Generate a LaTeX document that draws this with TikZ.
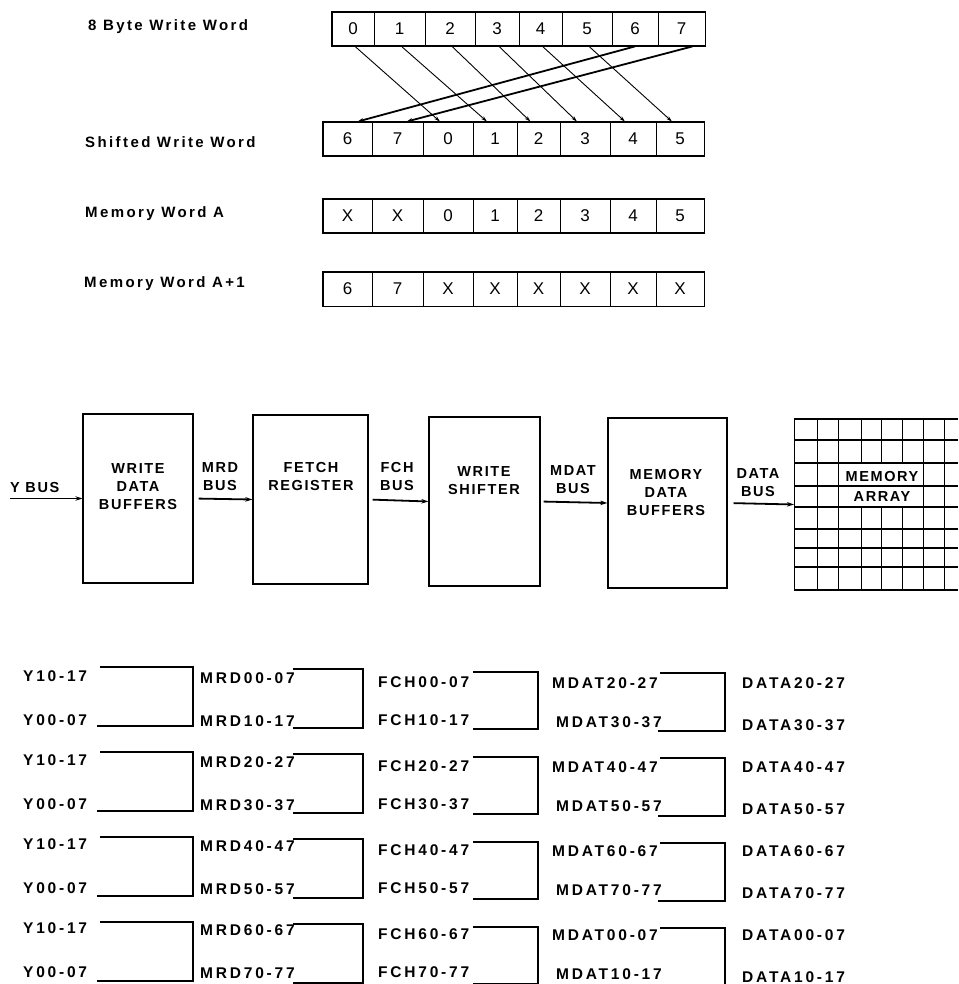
\documentclass[tikz,border=0pt]{standalone}
\usepackage{fontspec}
\setmainfont{Liberation Sans}
\newfontfamily\wordfont[LetterSpace=16]{Liberation Sans}
\newfontfamily\blockfont[LetterSpace=11]{Liberation Sans}
\newfontfamily\sigfont[LetterSpace=18]{Liberation Sans}
\usetikzlibrary{arrows.meta, calc, positioning}

\begin{document}
\begin{tikzpicture}[x=1pt, y=-1pt,
    cell/.style={draw, line width=0.8pt, inner sep=0pt, minimum height=34pt, font=\fontsize{17}{17}\selectfont},
    wordlabel/.style={anchor=base west, inner sep=0pt, font=\wordfont\bfseries\fontsize{15}{15}\selectfont},
    block/.style={draw, line width=1.3pt, inner sep=0pt},
    blocktext/.style={align=center, inner sep=0pt, font=\blockfont\bfseries\fontsize{14.5}{18}\selectfont},
    sig/.style={anchor=west, inner sep=0pt, font=\sigfont\bfseries\fontsize{15.5}{15.5}\selectfont},
    bus/.style={line width=1.8pt, -{Stealth[length=7pt, width=4.5pt]}},
    byteline/.style={line width=0.9pt, -{Stealth[length=6pt, width=3.5pt]}},
    wrapline/.style={line width=1.8pt, -{Stealth[length=6pt, width=4pt]}},
    bracket/.style={line width=1.6pt},
    gridh/.style={line width=1.6pt},
    gridv/.style={line width=0.8pt}]
    \useasboundingbox (0,0) rectangle (958,984);

    % word labels
    \node[wordlabel] (lw) at (88,31) {8 Byte Write Word};
    \node[wordlabel] (ls) at (85,148) {Shifted Write Word};
    \node[wordlabel] (la) at (85,218) {Memory Word A};
    \node[wordlabel] (lb) at (84,287) {Memory Word A+1};

    % byte cells
    \foreach \xa/\xb/\txt [count=\i from 0] in {332/374/0, 374/425/1, 425/475/2, 475/519/3, 519/562/4, 562/612/5, 612/658/6, 658/705/7}
        \node[cell, minimum width={(\xb-\xa)*1pt}] (w\i) at ({(\xa+\xb)/2},29) {\txt};
    \foreach \xa/\xb/\ts/\ta/\tb [count=\i from 0] in {323/372/6/X/6, 372/423/7/X/7, 423/473/0/0/X, 473/517/1/1/X, 517/560/2/2/X, 560/610/3/3/X, 610/656/4/4/X, 656/704/5/5/X} {
        \node[cell, minimum width={(\xb-\xa)*1pt}] (s\i) at ({(\xa+\xb)/2},139) {\ts};
        \node[cell, minimum width={(\xb-\xa)*1pt}] (a\i) at ({(\xa+\xb)/2},216) {\ta};
        \node[cell, minimum width={(\xb-\xa)*1pt}] (b\i) at ({(\xa+\xb)/2},289) {\tb};
    }
    \foreach \rw in {w,s,a,b}
        \draw[line width=1.8pt] (\rw0.north west) rectangle (\rw7.south east);

    % shift arrows
    \foreach \i/\j in {0/2,1/3,2/4,3/5,4/6,5/7}
        \draw[byteline] ($(w\i.south)+(2,0)$) -- ($(s\j.north)+(-8,0)$);
    \draw[wrapline] (w6.south) -- ($(s0.north)+(10,0)$);
    \draw[wrapline] ($(w7.south)+(11,0)$) -- ($(s1.north)+(9,0)$);

    % blocks
    \node[block, minimum width=110pt, minimum height=169pt] (wdb) at (138,498.5) {};
    \node[block, minimum width=115pt, minimum height=169pt] (fch) at (310.5,499.5) {};
    \node[block, minimum width=111pt, minimum height=169pt] (wsh) at (484.5,501.5) {};
    \node[block, minimum width=119pt, minimum height=170pt] (mdb) at (667.5,503) {};
    \node[blocktext] (wdbt) at (138,487) {WRITE\\DATA\\BUFFERS};
    \node[blocktext] (fcht) at (311,477) {FETCH\\REGISTER};
    \node[blocktext] (wsht) at (484,481) {WRITE\\SHIFTER};
    \node[blocktext] (mdbt) at (666,493) {MEMORY\\DATA\\BUFFERS};

    % memory array
    \foreach \y in {419,440,463,486,507,529,548,567,590}
        \draw[gridh] (794,\y) -- (958,\y);
    \foreach \x in {794,817,838,923,944}
        \draw[gridv] (\x,419) -- (\x,590);
    \foreach \x in {861,881,902} {
        \draw[gridv] (\x,419) -- (\x,463);
        \draw[gridv] (\x,507) -- (\x,590);
    }
    \node[blocktext] (arrt) at (882,477) {MEMORY};
    \node[blocktext] (arrb) at (882,497) {ARRAY};
    \coordinate (arr) at (794,504.5);

    % buses
    \coordinate (ybus) at (10,498.5);
    \draw[bus] (ybus) -- (wdb.west);
    \draw[bus, shorten <=5pt] (wdb.east) -- (fch.west);
    \draw[bus, shorten <=4pt] (fch.east) -- (wsh.west);
    \draw[bus, shorten <=3pt] (wsh.east) -- (mdb.west);
    \draw[bus, shorten <=6pt] (mdb.east) -- (arr);
    \node[blocktext, anchor=west] (ybusl) at (10,488) {Y BUS};
    \node[blocktext] (mrdl) at (220,477) {MRD\\BUS};
    \node[blocktext] (fchl) at (397,477) {FCH\\BUS};
    \node[blocktext] (mdatl) at (573,480) {MDAT\\BUS};
    \node[blocktext] (datal) at (758,483) {DATA\\BUS};

    % byte lane table
    \foreach \ma/\mb/\da/\db [count=\k from 0] in {00-07/10-17/20-27/30-37, 20-27/30-37/40-47/50-57, 40-47/50-57/60-67/70-77, 60-67/70-77/00-07/10-17} {
        \pgfmathsetmacro{\g}{667+85*\k}
        \pgfmathsetmacro{\h}{676+84*\k}
        \node[sig] (ya\k) at (23,\h) {Y10-17};
        \node[sig] (yb\k) at (23,\h+44) {Y00-07};
        \node[sig] (ra\k) at (200,\h+2) {MRD\ma};
        \node[sig] (rb\k) at (200,\h+45) {MRD\mb};
        \node[sig] (fa\k) at (378,\h+6) {FCH\ma};
        \node[sig] (fb\k) at (378,\h+44) {FCH\mb};
        \node[sig] (ma\k) at (552,\h+7) {MDAT\da};
        \node[sig] (mb\k) at (556,\h+46) {MDAT\db};
        \node[sig] (da\k) at (742,\h+7) {DATA\da};
        \node[sig] (db\k) at (742,\h+49) {DATA\db};
        \draw[bracket] (100,\g) -| (193,\g+59) -- (97,\g+59);
        \draw[bracket] (293,\g+2) -| (363,\g+61) -- (293,\g+61);
        \draw[bracket] (473,\g+5) -| (538,\g+62) -- (473,\g+62);
        \draw[bracket] (660,\g+6) -| (725,\g+64) -- (658,\g+64);
    }
\end{tikzpicture}
\end{document}
